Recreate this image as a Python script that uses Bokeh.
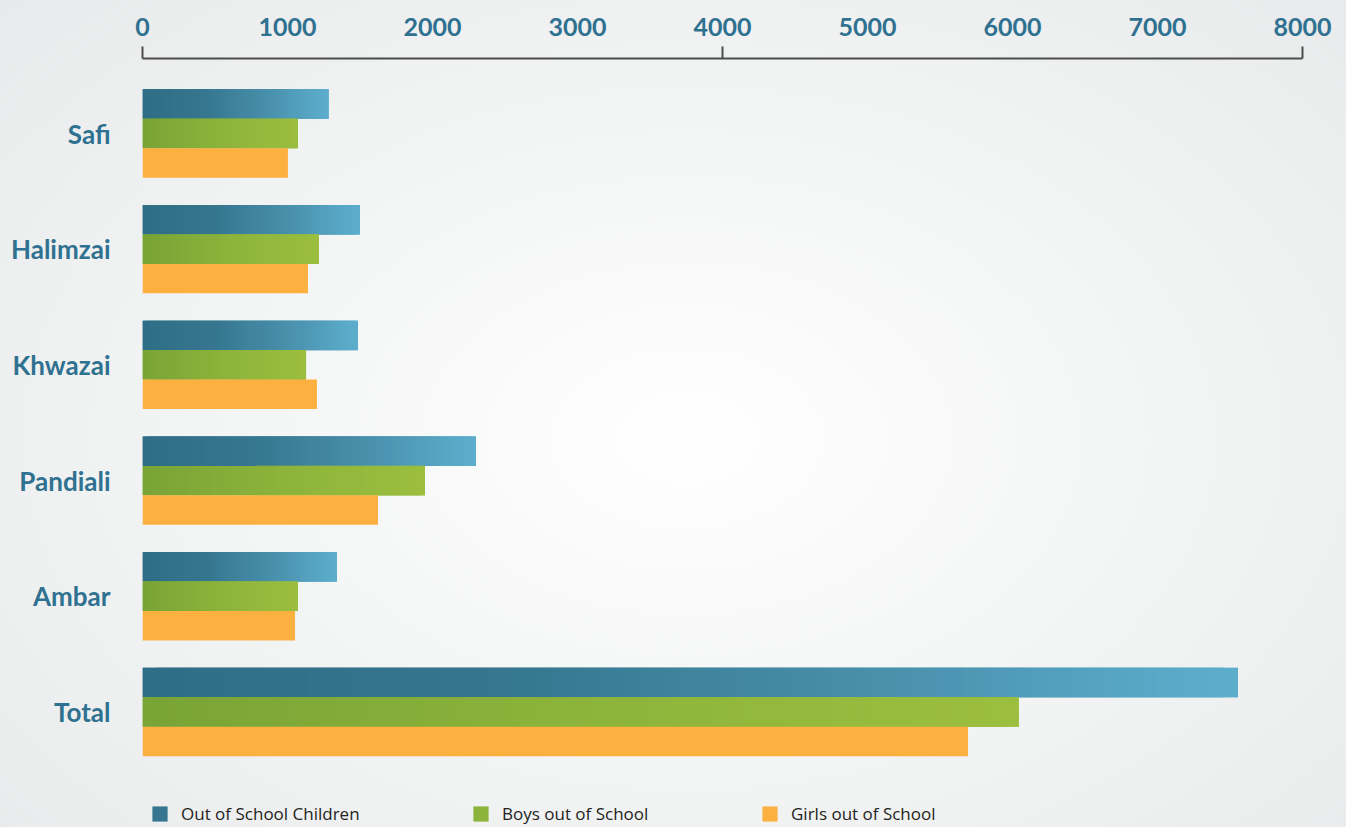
import numpy as np
from bokeh.plotting import figure
from bokeh.models import (Range1d, FixedTicker, ColumnDataSource, Legend,
                          LegendItem, GlobalInlineStyleSheet)
from bokeh.embed import file_html
from bokeh.resources import INLINE

# ---------------- data ----------------
regions = ["Safi", "Halimzai", "Khwazai", "Pandiali", "Ambar", "Total"]
out_of_school = [1284, 1500, 1486, 2300, 1341, 7555]
boys_out = [1072, 1217, 1128, 1948, 1072, 6043]
girls_out = [1003, 1141, 1203, 1624, 1052, 5693]
series_names = ["Out of School Children", "Boys out of School", "Girls out of School"]
x_ticks = [0, 1000, 2000, 3000, 4000, 5000, 6000, 7000, 8000]
x_tick_labels = ["0", "1000", "2000", "3000", "4000", "5000", "6000", "7000", "8000"]
x_marked_ticks = [0, 4000, 8000]

# ---------------- style ----------------
W, H = 1330, 819
FRAME_TOP = 50          # frame top (px from figure top)
BAND = 115.7            # px per category
FIRST_CENTER = 75       # px from frame top to first category centre
BAR_H = 0.2545
N_SLICES = 80
TEAL = "#2f7190"

def hex2rgb(h):
    h = h.lstrip("#")
    return np.array([int(h[i:i + 2], 16) for i in (0, 2, 4)], dtype=float)

def ramp(stops, n):
    ts = np.array([s[0] for s in stops])
    cs = np.array([hex2rgb(s[1]) for s in stops])
    out = []
    for t in (np.arange(n) + 0.5) / n:
        rgb = [np.interp(t, ts, cs[:, k]) for k in range(3)]
        out.append("#%02x%02x%02x" % tuple(int(round(c)) for c in rgb))
    return out

blue_ramp = ramp([(0, "#2e6d86"), (0.35, "#36778f"), (0.7, "#4a91ad"), (1, "#5caecd")], N_SLICES)
green_ramp = ramp([(0, "#78a336"), (0.5, "#8cb33b"), (1, "#9bbe3e")], N_SLICES)
orange = "#fcb040"

frame_h = H - FRAME_TOP
y_top = -FIRST_CENTER / BAND
y_bottom = y_top + frame_h / BAND

p = figure(width=W, height=H, output_backend="svg", toolbar_location=None,
           x_range=Range1d(0, 8000), y_range=Range1d(y_bottom, y_top),
           x_axis_location="above", min_border_left=134, min_border_right=36,
           min_border_top=FRAME_TOP, min_border_bottom=0)
p.background_fill_color = None
p.border_fill_color = None
p.outline_line_color = None
p.grid.visible = False

p.stylesheets = [GlobalInlineStyleSheet(css=(
    "html{min-height:100%;background:radial-gradient(ellipse 72% 78% at 51% 53%,"
    "#ffffff 0%,#f5f6f6 40%,#e8e9ea 100%) fixed;}"
    "body{background:transparent;overflow:hidden;margin:8px 8px 0 8px;}"))]

def sliced(values, offset, colors):
    # overlapping slices: no seams, and every part of a bar is covered by
    # at least two layers so the bar edges stay uniformly crisp
    ys, lefts, rights, cols = [], [], [], []
    n = len(colors)
    for i, v in enumerate(values):
        edges = v * np.linspace(0, 1, n + 1)
        for k, c in enumerate(colors):
            ys.append(i + offset)
            lefts.append(edges[max(k - 1, 0)])
            rights.append(edges[min(k + 2, n)])
            cols.append(c)
    return ColumnDataSource(dict(y=ys, left=lefts, right=rights, color=cols))

src_blue = sliced(out_of_school, -BAR_H, blue_ramp)
src_green = sliced(boys_out, 0.0, green_ramp)
src_orange = ColumnDataSource(dict(y=[i + BAR_H for i in range(len(regions))],
                                   left=[0] * len(regions), right=girls_out))

r_blue = p.hbar(y="y", left="left", right="right", height=BAR_H, source=src_blue,
                fill_color="color", line_color=None)
r_green = p.hbar(y="y", left="left", right="right", height=BAR_H, source=src_green,
                 fill_color="color", line_color=None)
r_orange = p.hbar(y="y", left="left", right="right", height=BAR_H, source=src_orange,
                  fill_color=orange, line_color=None)

# x axis (top)
xa = p.xaxis[0]
xa.ticker = FixedTicker(ticks=x_ticks, minor_ticks=x_marked_ticks)
xa.major_label_overrides = {t: l for t, l in zip(x_ticks, x_tick_labels)}
xa.major_tick_out = 0
xa.major_tick_in = 0
xa.major_tick_line_color = None
xa.minor_tick_out = 12
xa.minor_tick_in = 0
xa.minor_tick_line_color = "#4d4d4d"
xa.minor_tick_line_width = 2
xa.axis_line_color = "#4d4d4d"
xa.axis_line_width = 2
xa.major_label_standoff = 11
xa.major_label_text_font = "Lato"
xa.major_label_text_font_style = "bold"
xa.major_label_text_font_size = "25px"
xa.major_label_text_color = TEAL

# y axis (left)
ya = p.yaxis[0]
ya.ticker = FixedTicker(ticks=list(range(len(regions))))
ya.major_label_overrides = {i: r for i, r in enumerate(regions)}
ya.axis_line_color = None
ya.major_tick_line_color = None
ya.minor_tick_line_color = None
ya.major_label_standoff = 26
ya.major_label_text_font = "Lato"
ya.major_label_text_font_style = "bold"
ya.major_label_text_font_size = "26px"
ya.major_label_text_color = TEAL

# legends
legend_specs = [(series_names[0], r_blue, N_SLICES // 3, 8),
                (series_names[1], r_green, N_SLICES // 2, 329),
                (series_names[2], r_orange, 0, 618)]
for name, rend, idx, xloc in legend_specs:
    lg = Legend(items=[LegendItem(label=name, renderers=[rend], index=idx)],
                location=(xloc, 2), orientation="horizontal", padding=0, margin=0,
                spacing=0, glyph_width=19, glyph_height=19, label_height=19,
                label_standoff=12, border_line_color=None, background_fill_alpha=0,
                label_text_font="Open Sans", label_text_font_size="17px",
                label_text_color="#231f20")
    p.add_layout(lg)

open("out.html", "w").write(file_html(p, INLINE))
